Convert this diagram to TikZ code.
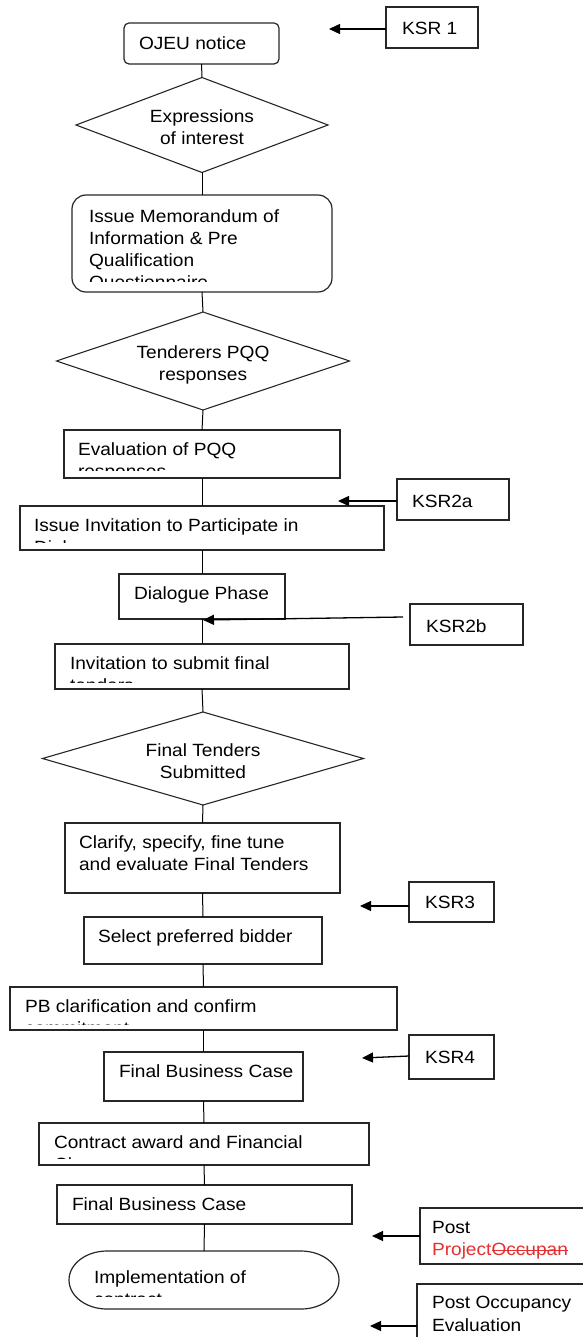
\documentclass[tikz,border=0pt]{standalone}
\usepackage{fontspec}
\setmainfont{Liberation Sans}[FakeStretch=1.08]
\usetikzlibrary{shapes.geometric,arrows.meta,calc}
\definecolor{editred}{RGB}{228,48,48}

% rectangle given by its corners: [options]{name}{x1}{y1}{x2}{y2}
\newcommand\cornerbox[6][]{%
  \pgfmathsetmacro\bw{#5-#3}\pgfmathsetmacro\bh{#6-#4}%
  \pgfmathsetmacro\bx{(#3+#5)/2}\pgfmathsetmacro\by{(#4+#6)/2}%
  \node[box,#1,minimum width=\bw pt,minimum height=\bh pt] (#2) at (\bx,\by) {};}

\begin{document}
\begin{tikzpicture}[x=1pt,y=-1pt,
  font=\fontsize{17.7}{22}\selectfont,
  box/.style={draw=black!85,line width=1.2pt,inner sep=0pt,outer sep=0pt},
  decision/.style={draw=black!85,line width=1.1pt,shape=diamond,inner sep=0pt,outer sep=0pt},
  txt/.style={anchor=base west,inner sep=0pt,outer sep=0pt},
  ctxt/.style={anchor=base,inner sep=0pt,outer sep=0pt},
  link/.style={line width=1pt,black},
  pointer/.style={line width=1.3pt,black,-{Triangle[length=11pt,width=10pt]}}]

\useasboundingbox (0,0) rectangle (582,1337);

% ---------------- main flow ----------------
\cornerbox[rounded corners=5pt]{ojeu}{124}{23}{279}{64}
\node[txt] (ojeuT) at (139,50) {OJEU notice};

\node[decision,minimum width=252pt,minimum height=95pt,aspect=2.65] (eoi) at (202,125) {};
\node[ctxt] (eoiT1) at (202,123) {Expressions};
\node[ctxt] (eoiT2) at (202,145) {of interest};

\cornerbox[rounded corners=14pt]{memo}{72}{195}{332}{292}
\begin{scope}
  \clip (72,195) rectangle (332,282);
  \node[txt] (memoT1) at (89,223) {Issue Memorandum of};
  \node[txt] (memoT2) at (89,245) {Information \& Pre};
  \node[txt] (memoT3) at (89,267) {Qualification};
  \node[txt] (memoT4) at (89,289) {Questionnaire};
\end{scope}

\node[decision,minimum width=293pt,minimum height=98pt,aspect=2.99] (pqq) at (203,361) {};
\node[ctxt] (pqqT1) at (203,358) {Tenderers PQQ};
\node[ctxt] (pqqT2) at (203,380) {responses};

\cornerbox{evalb}{64}{430}{340}{478}
\begin{scope}
  \clip (64,430) rectangle (340,470);
  \node[txt] (evalT1) at (78,455) {Evaluation of PQQ};
  \node[txt] (evalT2) at (78,477) {responses};
\end{scope}

\cornerbox{invite}{20}{506}{384}{550}
\begin{scope}
  \clip (20,506) rectangle (384,542.5);
  \node[txt] (inviteT1) at (34,531) {Issue Invitation to Participate in};
  \node[txt] (inviteT2) at (34,553) {Dialogue};
\end{scope}

\cornerbox{dialog}{119}{574}{285}{619}
\node[txt] (dialogT) at (134,599) {Dialogue Phase};

\cornerbox{submit}{55}{644}{349}{689}
\begin{scope}
  \clip (55,644) rectangle (349,682);
  \node[txt] (submitT1) at (70,669) {Invitation to submit final};
  \node[txt] (submitT2) at (70,691) {tenders};
\end{scope}

\node[decision,minimum width=321pt,minimum height=93pt,aspect=3.45] (fts) at (203,758.5) {};
\node[ctxt] (ftsT1) at (203,756) {Final Tenders};
\node[ctxt] (ftsT2) at (203,778) {Submitted};

\cornerbox{clarify}{65}{823}{340}{893}
\node[txt] (clarifyT1) at (79,848) {Clarify, specify, fine tune};
\node[txt] (clarifyT2) at (79,870) {and evaluate Final Tenders};

\cornerbox{select}{84}{917}{322}{964}
\node[txt] (selectT) at (98,942) {Select preferred bidder};

\cornerbox{pbc}{10}{987}{397}{1030}
\begin{scope}
  \clip (10,987) rectangle (397,1024);
  \node[txt] (pbcT1) at (25,1012) {PB clarification and confirm};
  \node[txt] (pbcT2) at (25,1034) {commitment};
\end{scope}

\cornerbox{fbcA}{104}{1052}{303}{1101}
\node[txt] (fbcAT) at (119,1077) {Final Business Case};

\cornerbox{award}{39}{1123}{369}{1165}
\begin{scope}
  \clip (39,1123) rectangle (369,1158.5);
  \node[txt] (awardT1) at (54,1148) {Contract award and Financial};
  \node[txt] (awardT2) at (54,1170) {Close};
\end{scope}

\cornerbox{fbcB}{57}{1185}{352}{1224}
\node[txt] (fbcBT) at (72,1210) {Final Business Case};

% terminator with elliptical ends
\node[inner sep=0pt,outer sep=0pt,minimum width=270pt,minimum height=58pt] (impl) at (204,1280) {};
\draw[draw=black!85,line width=1.2pt]
  ($(impl.north west)+(38,0)$) -- ($(impl.north east)+(-38,0)$)
  arc[start angle=90,end angle=-90,x radius=38pt,y radius=29pt]
  -- ($(impl.south west)+(38,0)$)
  arc[start angle=270,end angle=90,x radius=38pt,y radius=29pt] -- cycle;
\begin{scope}
  \clip (69,1251) rectangle (339,1296);
  \node[txt] (implT1) at (94,1283) {Implementation of};
  \node[txt] (implT2) at (94,1305) {contract};
\end{scope}

% ---------------- connectors ----------------
\draw[link] (ojeu.south) -- (eoi.north);
\draw[link] (eoi.south) -- (memo.north);
\draw[link] (memo.south) -- (pqq.north);
\draw[link] (pqq.south) -- (evalb.north);
\draw[link] (evalb.south) -- (invite.north);
\draw[link] (invite.south) -- (dialog.north);
\draw[link] (dialog.south) -- (submit.north);
\draw[link] (submit.south) -- (fts.north);
\draw[link] (fts.south) -- (clarify.north);
\draw[link] (clarify.south) -- (select.north);
\draw[link] (select.south) -- (pbc.north);
\draw[link] (pbc.south) -- (fbcA.north);
\draw[link] (fbcA.south) -- (award.north);
\draw[link] (award.south) -- (fbcB.north);
\draw[link] (fbcB.south) -- (impl.north);

% ---------------- key stage reviews ----------------
\cornerbox{ksrA}{386}{7}{478}{48}
\node[txt] (ksrAT) at (402,35) {KSR 1};
\coordinate (ksrAtip) at (329,29);
\draw[pointer] ([yshift=-1.5pt]ksrA.west) -- (ksrAtip);

\cornerbox{ksrB}{397}{479}{509}{520}
\node[txt] (ksrBT) at (412,507) {KSR2a};
\coordinate (ksrBtip) at (338,501);
\draw[pointer] ([yshift=-1.5pt]ksrB.west) -- (ksrBtip);

\cornerbox{ksrC}{410}{604}{523}{645}
\node[txt] (ksrCT) at (426,632) {KSR2b};
\coordinate (ksrCtip) at (203,620);
\draw[pointer] ([xshift=-7pt,yshift=7.5pt]ksrC.west) -- (ksrCtip);

\cornerbox{ksrD}{409}{882}{494}{922}
\node[txt] (ksrDT) at (425,908) {KSR3};
\coordinate (ksrDtip) at (360,906);
\draw[pointer] ([yshift=-4pt]ksrD.west) -- (ksrDtip);

\cornerbox{ksrE}{409}{1035}{494}{1079}
\node[txt] (ksrET) at (425,1063) {KSR4};
\coordinate (ksrEtip) at (362,1058);
\draw[pointer] ([yshift=1pt]ksrE.west) -- (ksrEtip);

\cornerbox{ppe}{420}{1208}{600}{1264}
\begin{scope}
  \clip (420,1208) rectangle (600,1259);
  \node[txt] (ppeT1) at (432,1233) {Post};
  \node[txt,text=editred] (ppeT2) at (432,1255) {Project};
  \node[anchor=base west,inner sep=0pt,outer sep=0pt,text=editred] (ppeT3) at (ppeT2.base east) {Occupan};
  \draw[editred,line width=0.9pt] ([yshift=5pt]ppeT3.base west) -- ([yshift=5pt]ppeT3.base east);
\end{scope}
\coordinate (ppeTip) at (372,1236);
\draw[pointer] (ppe.west) -- (ppeTip);

\cornerbox{poe}{417}{1284}{600}{1368}
\node[txt] (poeT1) at (432,1308) {Post Occupancy};
\node[txt] (poeT2) at (432,1331) {Evaluation};
\coordinate (poeTip) at (370,1326);
\draw[pointer] (poe.west) -- (poeTip);

\end{tikzpicture}
\end{document}
